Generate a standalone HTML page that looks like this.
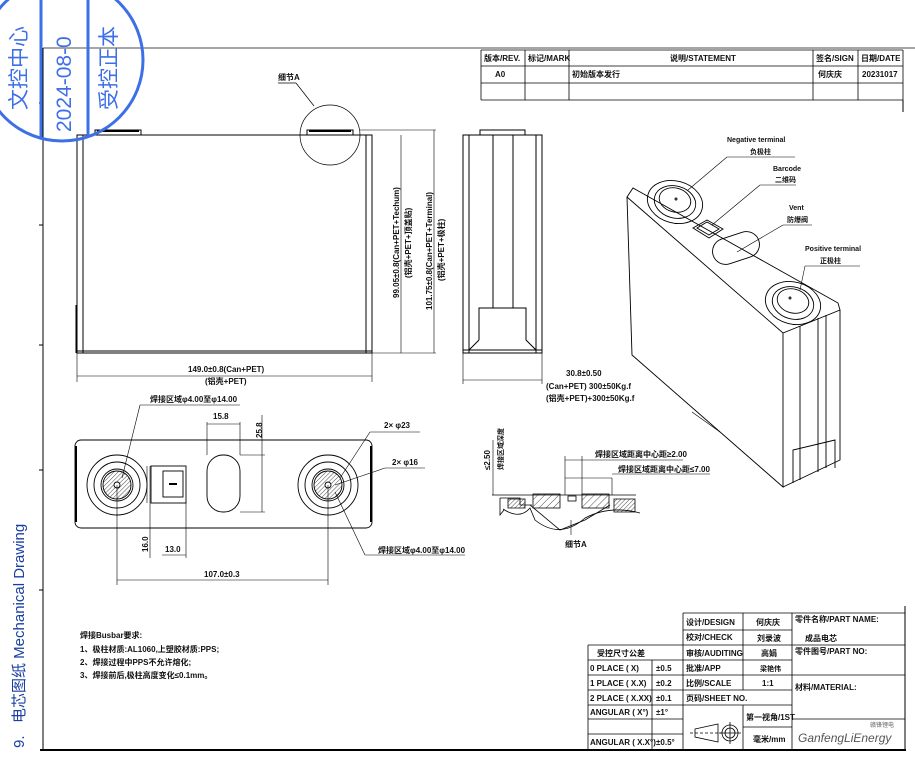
<!DOCTYPE html>
<html><head><meta charset="utf-8"><style>
html,body{margin:0;padding:0;background:#fff;}
svg{display:block;}
text{font-family:"Liberation Sans","Noto Sans CJK SC",sans-serif;font-weight:bold;fill:#111;}
.t{font-size:8px;}
.s{font-size:7px;}
</style></head><body>
<svg width="915" height="768" viewBox="0 0 915 768" xmlns="http://www.w3.org/2000/svg">
<rect width="915" height="768" fill="#fff"/>
<!-- frame -->
<line x1="43" y1="48" x2="915" y2="48" stroke="#888" stroke-width="1.5"/>
<line x1="43" y1="48" x2="43" y2="750" stroke="#000" stroke-width="1"/>
<line x1="40" y1="750" x2="906" y2="750" stroke="#000" stroke-width="2"/>
<line x1="905" y1="606" x2="905" y2="750" stroke="#000" stroke-width="1"/>
<line x1="903" y1="100" x2="903" y2="112" stroke="#000"/>
<g stroke="#000" stroke-width="1"><line x1="39" y1="103" x2="43" y2="103"/><line x1="39" y1="225" x2="43" y2="225"/><line x1="39" y1="345" x2="43" y2="345"/><line x1="39" y1="470" x2="43" y2="470"/><line x1="39" y1="590" x2="43" y2="590"/></g>

<!-- left vertical title -->
<text transform="translate(24,748) rotate(-90)" style="font-size:15px;font-weight:normal;fill:#1a3fa0">9.&#160;&#160;&#160;电芯图纸 Mechanical Drawing</text>

<!-- revision table -->
<g stroke="#000" stroke-width="0.8" fill="none">
<line x1="481" y1="50" x2="903" y2="50"/><line x1="481" y1="66" x2="903" y2="66"/><line x1="481" y1="83" x2="903" y2="83"/><line x1="481" y1="100" x2="903" y2="100"/>
<line x1="481" y1="50" x2="481" y2="100"/><line x1="525" y1="50" x2="525" y2="100"/><line x1="569" y1="50" x2="569" y2="100"/><line x1="813" y1="50" x2="813" y2="100"/><line x1="858" y1="50" x2="858" y2="100"/><line x1="903" y1="50" x2="903" y2="100"/>
</g>
<text class="t" x="484" y="61">版本/REV.</text><text class="t" x="528" y="61">标记/MARK</text><text class="t" x="670" y="61">说明/STATEMENT</text><text class="t" x="816" y="61">签名/SIGN</text><text class="t" x="861" y="61">日期/DATE</text>
<text class="t" x="495" y="77">A0</text><text class="t" x="572" y="77">初始版本发行</text><text class="t" x="818" y="77">何庆庆</text><text class="t" x="862" y="77">20231017</text>

<!-- front view -->
<g stroke="#000" stroke-width="1" fill="none">
<rect x="77" y="135" width="295" height="218"/>
<line x1="83" y1="135" x2="83" y2="353"/><line x1="366" y1="135" x2="366" y2="353"/>
<line x1="77" y1="351" x2="372" y2="351"/>
<rect x="95" y="130" width="46" height="5"/><rect x="307" y="130" width="46" height="5"/>
<line x1="97" y1="131" x2="139" y2="131" stroke-width="2"/><line x1="309" y1="131" x2="351" y2="131" stroke-width="2"/>
<circle cx="330" cy="135" r="30" stroke-width="0.7"/>
<line x1="278" y1="83" x2="296" y2="83" stroke-width="0.7"/><line x1="296" y1="83" x2="314" y2="106" stroke-width="0.7"/>
<g stroke-width="0.6">
<line x1="372" y1="353" x2="436" y2="353"/><line x1="360" y1="130" x2="436" y2="130"/>
<line x1="401" y1="135" x2="401" y2="353"/><line x1="434" y1="130" x2="434" y2="353"/>
<line x1="77" y1="353" x2="77" y2="382"/><line x1="372" y1="353" x2="372" y2="382"/>
<line x1="77" y1="376" x2="372" y2="376"/>
</g>
<line x1="76" y1="305" x2="76" y2="353"/>
</g>
<text class="t" x="278" y="80">细节A</text>
<text class="t" transform="translate(399,298) rotate(-90)">99.05±0.8(Can+PET+Techum)</text>
<text class="t" transform="translate(411,278) rotate(-90)">(铝壳+PET+顶盖贴)</text>
<text class="t" transform="translate(432,310) rotate(-90)">101.75±0.8(Can+PET+Terminal)</text>
<text class="t" transform="translate(444,281) rotate(-90)">(铝壳+PET+极柱)</text>
<text class="t" x="188" y="372">149.0±0.8(Can+PET)</text>
<text class="t" x="205" y="384">(铝壳+PET)</text>

<!-- side view -->
<g stroke="#000" stroke-width="1" fill="none">
<rect x="463" y="135" width="79" height="218"/>
<line x1="469" y1="135" x2="469" y2="353"/><line x1="536" y1="135" x2="536" y2="353"/>
<line x1="493" y1="135" x2="493" y2="308"/><line x1="513" y1="135" x2="513" y2="308"/>
<path d="M479 340 V308 H526 V340 L536 350 M479 340 L469 350"/>
<line x1="463" y1="350" x2="542" y2="350"/>
<rect x="480" y="130" width="45" height="5"/>
<g stroke-width="0.6"><line x1="463" y1="353" x2="463" y2="384"/><line x1="542" y1="353" x2="542" y2="384"/><line x1="463" y1="380" x2="542" y2="380"/></g>
</g>
<text class="t" x="566" y="376">30.8±0.50</text>
<text class="t" x="546" y="389">(Can+PET) 300±50Kg.f</text>
<text class="t" x="546" y="401">(铝壳+PET)+300±50Kg.f</text>

<!-- iso view -->
<g stroke="#000" stroke-width="0.9" fill="none">
<path d="M627 197 L633 188 L838 303 L840 310 L783 333 L627 197 Z"/>
<path d="M627 197 L632 355 L783 487 L783 333"/>
<path d="M840 310 L840 460 L783 487"/>
<line x1="800" y1="326" x2="800" y2="480"/><line x1="818" y1="318" x2="818" y2="472"/><line x1="826" y1="315" x2="826" y2="468"/>
<path d="M793 483 V450 L835 440 V468"/>
<ellipse cx="675" cy="202" rx="28" ry="21" transform="rotate(15 675 202)"/>
<ellipse cx="675" cy="202" rx="21" ry="16" transform="rotate(15 675 202)"/>
<ellipse cx="675" cy="200" rx="16" ry="12" transform="rotate(15 675 200)"/>
<circle cx="676" cy="199" r="1"/>
<ellipse cx="793" cy="303" rx="28" ry="21" transform="rotate(15 793 303)"/>
<ellipse cx="793" cy="303" rx="21" ry="16" transform="rotate(15 793 303)"/>
<ellipse cx="793" cy="301" rx="16" ry="12" transform="rotate(15 793 301)"/>
<circle cx="790" cy="298" r="1"/>
<path d="M693 228 L707 220 L723 229 L709 238 Z"/><path d="M697 228 L707 222 L719 229 L709 235 Z"/>
<rect x="712" y="235" width="48" height="26" rx="13" transform="rotate(-18 736 248)"/>
<g stroke-width="0.6">
<line x1="727" y1="157" x2="795" y2="157"/><line x1="727" y1="157" x2="688" y2="190"/>
<line x1="760" y1="185" x2="796" y2="185"/><line x1="760" y1="185" x2="712" y2="225"/>
<line x1="783" y1="225" x2="812" y2="225"/><line x1="783" y1="225" x2="737" y2="252"/>
<line x1="805" y1="266" x2="860" y2="266"/><line x1="805" y1="266" x2="800" y2="290"/>
</g>
</g>
<text class="s" x="727" y="142">Negative terminal</text><text class="s" x="750" y="154">负极柱</text>
<text class="s" x="773" y="171">Barcode</text><text class="s" x="775" y="182">二维码</text>
<text class="s" x="789" y="210">Vent</text><text class="s" x="787" y="222">防爆阀</text>
<text class="s" x="805" y="251">Positive terminal</text><text class="s" x="820" y="263">正极柱</text>

<!-- plan view -->
<defs><pattern id="h" width="3" height="3" patternUnits="userSpaceOnUse" patternTransform="rotate(45)"><line x1="0" y1="0" x2="0" y2="3" stroke="#000" stroke-width="0.7"/></pattern>
<pattern id="h2" width="5" height="5" patternUnits="userSpaceOnUse" patternTransform="rotate(45)"><line x1="0" y1="0" x2="0" y2="5" stroke="#000" stroke-width="0.7"/></pattern></defs>
<g stroke="#000" stroke-width="0.9" fill="none">
<rect x="75" y="440" width="297" height="88" rx="6"/>
<line x1="76" y1="446" x2="76" y2="522" stroke-width="2"/><line x1="371" y1="446" x2="371" y2="522" stroke-width="2"/>
<circle cx="117" cy="485" r="30"/><circle cx="117" cy="485" r="23"/><circle cx="117" cy="485" r="16"/>
<circle cx="117" cy="485" r="14" fill="url(#h)"/><circle cx="117" cy="485" r="3" fill="#fff"/>
<circle cx="328" cy="485" r="30"/><circle cx="328" cy="485" r="23"/><circle cx="328" cy="485" r="16"/>
<circle cx="328" cy="485" r="14" fill="url(#h)"/><circle cx="328" cy="485" r="3" fill="#fff"/>
<rect x="151" y="466" width="35" height="37"/><rect x="163" y="471" width="20" height="26"/>
<line x1="169" y1="484" x2="177" y2="484" stroke-width="2"/>
<rect x="207" y="455" width="33" height="57" rx="16"/>
<g stroke-width="0.6">
<line x1="117" y1="485" x2="117" y2="585"/><line x1="328" y1="485" x2="328" y2="585"/><line x1="117" y1="580" x2="328" y2="580"/>
<line x1="150" y1="466" x2="150" y2="558"/><line x1="186" y1="503" x2="186" y2="558"/><line x1="162" y1="555" x2="186" y2="555"/>
<line x1="147" y1="466" x2="147" y2="503"/>
<line x1="207" y1="422" x2="207" y2="455"/><line x1="240" y1="422" x2="240" y2="455"/><line x1="207" y1="424" x2="240" y2="424"/>
<line x1="240" y1="455" x2="265" y2="455"/><line x1="240" y1="512" x2="265" y2="512"/><line x1="262" y1="415" x2="262" y2="512"/>
<line x1="140" y1="405" x2="240" y2="405"/><line x1="140" y1="405" x2="122" y2="478"/>
<line x1="370" y1="432" x2="420" y2="432"/><line x1="370" y1="432" x2="340" y2="478"/>
<line x1="385" y1="468" x2="425" y2="468"/><line x1="385" y1="468" x2="335" y2="485"/>
<line x1="365" y1="555" x2="465" y2="555"/><line x1="365" y1="555" x2="335" y2="492"/>
</g>
</g>
<text class="t" x="150" y="402">焊接区域φ4.00至φ14.00</text>
<text class="t" x="213" y="419">15.8</text>
<text class="t" transform="translate(262,438) rotate(-90)">25.8</text>
<text class="t" x="384" y="428">2× φ23</text>
<text class="t" x="392" y="465">2× φ16</text>
<text class="t" x="378" y="553">焊接区域φ4.00至φ14.00</text>
<text class="t" transform="translate(148,552) rotate(-90)">16.0</text>
<text class="t" x="165" y="552">13.0</text>
<text class="t" x="204" y="577">107.0±0.3</text>

<!-- detail A section -->
<g stroke="#000" stroke-width="0.8" fill="none">
<path d="M492 495 L636 495"/>
<path d="M500 498 H520 V505 H532 M500 498 V515 L504 510"/>
<path d="M503 509 Q520 520 530 508 L535 520 Q560 540 585 518 Q610 505 640 513"/>
<rect x="533" y="494" width="27" height="14" fill="url(#h2)"/>
<rect x="582" y="494" width="27" height="14" fill="url(#h2)"/>
<rect x="568" y="496" width="8" height="5"/>
<path d="M508 499 H525 V508 H508 Z" fill="url(#h)"/>
<path d="M614 499 H635 V512 H614 Z" fill="url(#h)"/>
<path d="M530 505 L560 530 L585 520 L610 505" />
<g stroke-width="0.6">
<line x1="493" y1="440" x2="493" y2="495"/>
<line x1="565" y1="456" x2="565" y2="495"/><line x1="582" y1="456" x2="582" y2="495"/><line x1="565" y1="460" x2="582" y2="460"/>
<line x1="582" y1="460" x2="683" y2="460"/>
<line x1="565" y1="478" x2="612" y2="478"/><line x1="612" y1="478" x2="612" y2="495"/><line x1="612" y1="474" x2="710" y2="474"/>
<line x1="571" y1="520" x2="571" y2="535"/>
<line x1="692" y1="412" x2="720" y2="432"/>
</g>
</g>
<text class="t" transform="translate(490,470) rotate(-90)">≤2.50</text>
<text class="s" transform="translate(503,470) rotate(-90)">焊接区域深度</text>
<text class="t" x="595" y="457">焊接区域距离中心距≥2.00</text>
<text class="t" x="618" y="472">焊接区域距离中心距≤7.00</text>
<text class="t" x="565" y="547">细节A</text>

<!-- notes -->
<text class="t" x="80" y="638">焊接Busbar要求:</text>
<text class="t" x="80" y="652">1、极柱材质:AL1060,上塑胶材质:PPS;</text>
<text class="t" x="80" y="665">2、焊接过程中PPS不允许熔化;</text>
<text class="t" x="80" y="678">3、焊接前后,极柱高度变化≤0.1mm。</text>

<!-- title block -->
<g stroke="#000" stroke-width="0.8" fill="none">
<line x1="683" y1="613" x2="905" y2="613"/>
<line x1="683" y1="630" x2="792" y2="630"/>
<line x1="588" y1="645" x2="905" y2="645"/>
<line x1="588" y1="660" x2="792" y2="660"/>
<line x1="588" y1="675" x2="905" y2="675"/>
<line x1="588" y1="690" x2="792" y2="690"/>
<line x1="588" y1="705" x2="792" y2="705"/>
<line x1="588" y1="719" x2="683" y2="719"/>
<line x1="792" y1="719" x2="905" y2="719"/>
<line x1="588" y1="734" x2="683" y2="734"/>
<line x1="743" y1="727" x2="792" y2="727"/>
<line x1="588" y1="645" x2="588" y2="750"/>
<line x1="652" y1="660" x2="652" y2="750"/>
<line x1="683" y1="613" x2="683" y2="750"/>
<line x1="743" y1="613" x2="743" y2="690"/><line x1="743" y1="705" x2="743" y2="750"/>
<line x1="792" y1="613" x2="792" y2="750"/>
<path d="M695 729 L718 724 V742 L695 737 Z"/><line x1="690" y1="733" x2="722" y2="733" stroke-dasharray="3 2"/>
<circle cx="730" cy="733" r="8"/><circle cx="730" cy="733" r="5"/><line x1="730" y1="722" x2="730" y2="744"/><line x1="719" y1="733" x2="741" y2="733"/>
</g>
<text class="t" x="686" y="625">设计/DESIGN</text><text class="t" x="756" y="625">何庆庆</text><text class="t" x="795" y="622">零件名称/PART NAME:</text>
<text class="t" x="686" y="640">校对/CHECK</text><text class="t" x="757" y="641">刘录波</text><text class="t" x="805" y="641">成品电芯</text>
<text class="t" x="597" y="656">受控尺寸公差</text><text class="t" x="686" y="656">审核/AUDITING</text><text class="t" x="761" y="656">高娟</text><text class="t" x="795" y="654">零件图号/PART NO:</text>
<text class="t" x="590" y="671">0 PLACE ( X)</text><text class="t" x="656" y="671">±0.5</text><text class="t" x="686" y="671">批准/APP</text><text class="s" x="760" y="671">梁艳伟</text>
<text class="t" x="590" y="686">1 PLACE ( X.X)</text><text class="t" x="656" y="686">±0.2</text><text class="t" x="686" y="686">比例/SCALE</text><text class="t" x="762" y="686">1:1</text><text class="t" x="795" y="690">材料/MATERIAL:</text>
<text class="t" x="590" y="701">2 PLACE ( X.XX)</text><text class="t" x="656" y="701">±0.1</text><text class="t" x="686" y="701">页码/SHEET NO.</text>
<text class="t" x="590" y="715">ANGULAR ( X°)</text><text class="t" x="656" y="715">±1°</text>
<text class="t" x="746" y="720">第一视角/1ST</text>
<text class="t" x="590" y="745">ANGULAR ( X.X°)</text><text class="t" x="656" y="745">±0.5°</text><text class="t" x="753" y="742">毫米/mm</text>
<text x="870" y="727" style="font-size:6px;font-weight:normal;fill:#666">赣锋锂电</text>
<text x="798" y="742" style="font-size:12px;font-style:italic;font-weight:normal;fill:#555">GanfengLiEnergy</text>

<!-- stamp -->
<g stroke="#3d6fe6" fill="none" stroke-width="3">
<circle cx="62" cy="60" r="81"/>
<line x1="41" y1="0" x2="41" y2="137"/><line x1="88" y1="0" x2="88" y2="137"/>
</g>
<g style="font-family:'Liberation Serif','Noto Serif CJK SC',serif;font-weight:normal;font-size:21px">
<text transform="translate(26,110) rotate(-90)" style="fill:#3d6fe6;font-weight:normal">文控中心</text>
<text transform="translate(71,132) rotate(-90)" style="fill:#3d6fe6;font-weight:normal">2024-08-0</text>
<text transform="translate(116,110) rotate(-90)" style="fill:#3d6fe6;font-weight:normal">受控正本</text>
</g>
</svg>
</body></html>
